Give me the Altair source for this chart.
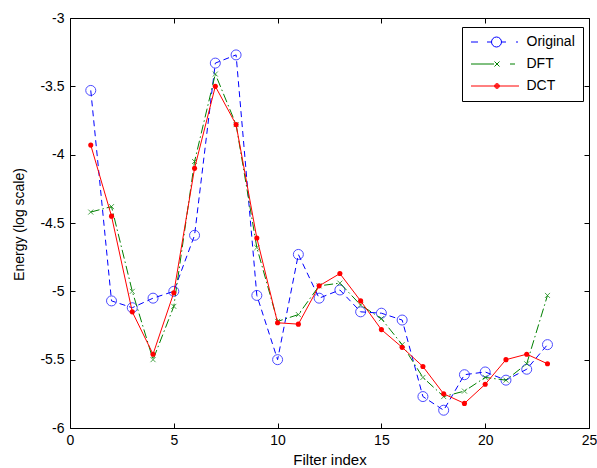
import altair as alt
import pandas as pd

# Filter indices and log-energy values for each representation
filter_index = list(range(1, 24))
original = [-3.53, -5.07, -5.12, -5.05, -5.00, -4.59, -3.33, -3.27, -5.03, -5.50,
            -4.73, -5.05, -4.99, -5.15, -5.16, -5.21, -5.77, -5.87, -5.61, -5.59,
            -5.65, -5.57, -5.39]
dft = [-4.42, -4.38, -5.00, -5.50, -5.11, -4.05, -3.41, -3.78, -4.68, -5.22,
       -5.17, -4.96, -4.94, -5.10, -5.20, -5.39, -5.63, -5.77, -5.73, -5.63,
       -5.65, -5.53, -5.03]
dct = [-3.93, -4.45, -5.15, -5.46, -5.01, -4.10, -3.50, -3.78, -4.61, -5.23,
       -5.24, -4.96, -4.87, -5.07, -5.28, -5.41, -5.55, -5.75, -5.82, -5.68,
       -5.50, -5.46, -5.53]

series_names = ["Original", "DFT", "DCT"]
series_colors = ["#0000ff", "#008000", "#ff0000"]
x_ticks = [0, 5, 10, 15, 20, 25]
y_ticks = [-6, -5.5, -5, -4.5, -4, -3.5, -3]

FONT = "Liberation Sans"
W, H = 519, 410

df = pd.DataFrame({
    "index": filter_index * 3,
    "energy": original + dft + dct,
    "series": [s for s in series_names for _ in filter_index],
})

x_scale = alt.Scale(domain=[0, 25], nice=False, zero=False)
y_scale = alt.Scale(domain=[-6, -3], nice=False, zero=False)

# Legend glyphs: line style with the marker in the middle (pixel units)
circ = lambda cx, r: (f"M{cx + r},0A{r},{r} 0 1,1 {cx - r},0"
                      f"A{r},{r} 0 1,1 {cx + r},0")
legend_paths = [
    "M-6,0H1M10,0H14.5M24.5,0H29M39,0H41" + circ(19.5, 5),
    "M-6,0H17M33,0H38M17.5,-2.5L22.5,2.5M17.5,2.5L22.5,-2.5",
    "M-6,0H42" + circ(20, 2.4) + circ(20, 1.6) + circ(20, 0.8),
]

label_common = dict(labelFont=FONT, labelFontSize=14, labelColor="black",
                    titleFont=FONT, titleColor="black",
                    titleFontWeight="normal", grid=False, domain=False)

# Inward-pointing tick marks on all four sides of the frame
tick_common = dict(labels=False, domain=False, grid=False, ticks=True,
                   tickSize=5, tickColor="black", tickWidth=1, title=None)

x_axes = [
    alt.Axis(orient="bottom", values=x_ticks, title="Filter index",
             labelExpr="toString(datum.value)", ticks=False, labelPadding=5,
             labelFlush=False, labelOverlap=False, titleFontSize=15,
             titleX=W / 2, titleY=31, titleBaseline="middle", **label_common),
    alt.Axis(orient="top", offset=-H, values=x_ticks, **tick_common),
    alt.Axis(orient="bottom", offset=-H, values=x_ticks, **tick_common),
]
y_axes = [
    alt.Axis(orient="left", values=y_ticks, title="Energy (log scale)",
             labelExpr="toString(datum.value)", ticks=False, labelPadding=6,
             labelOverlap=False, titleFontSize=14,
             titleX=-51, titleY=H / 2 + 1, titleBaseline="middle", **label_common),
    alt.Axis(orient="right", offset=-W, values=y_ticks, **tick_common),
    alt.Axis(orient="left", offset=-W, values=y_ticks, **tick_common),
]

line_dash = [[6, 4], [9, 3, 1.5, 3], None]
marker_marks = [
    dict(shape="circle", filled=False, size=100, strokeWidth=1),
    dict(shape="M-1,-1L1,1M-1,1L1,-1", filled=False, size=25, strokeWidth=1),
    dict(shape="circle", filled=True, size=26, strokeWidth=0, opacity=1),
]

layers = []
for i, name in enumerate(series_names):
    base = alt.Chart(df).transform_filter(alt.datum.series == name)
    line_kw = dict(color=series_colors[i], strokeWidth=1)
    if line_dash[i]:
        line_kw["strokeDash"] = line_dash[i]
    line = base.mark_line(**line_kw).encode(
        x=alt.X("index:Q", scale=x_scale, axis=x_axes[i]),
        y=alt.Y("energy:Q", scale=y_scale, axis=y_axes[i]),
    )
    pts = base.mark_point(color=series_colors[i], **marker_marks[i]).encode(
        x=alt.X("index:Q", scale=x_scale, axis=None),
        y=alt.Y("energy:Q", scale=y_scale, axis=None),
    )
    layers += [line, pts]

legend = alt.Legend(
    title=None, orient="none", legendX=392, legendY=9, direction="vertical",
    symbolSize=4, symbolStrokeWidth=1, symbolOpacity=1, symbolOffset=0,
    labelOffset=42.5, labelFont=FONT, labelFontSize=14, labelColor="black",
    strokeColor="black", fillColor="white", padding=8, rowPadding=8,
    cornerRadius=0,
)

# Invisible layer that only feeds the legend
key_layer = alt.Chart(df).mark_point(opacity=0, filled=False).encode(
    x=alt.X("index:Q", scale=x_scale, axis=None),
    y=alt.Y("energy:Q", scale=y_scale, axis=None),
    color=alt.Color("series:N", sort=series_names, legend=legend,
                    scale=alt.Scale(domain=series_names, range=series_colors)),
    shape=alt.Shape("series:N", sort=series_names, legend=legend,
                    scale=alt.Scale(domain=series_names, range=legend_paths)),
)
layers.append(key_layer)

chart = alt.layer(*layers).resolve_axis(
    x="independent", y="independent"
).properties(
    width=W, height=H,
    autosize=alt.AutoSizeParams(type="none"),
    padding={"left": 70, "top": 18, "right": 8, "bottom": 40},
    background="white",
).configure_view(stroke="black", strokeWidth=1)

chart.save("out.html", embed_options={"renderer": "svg", "actions": False})
